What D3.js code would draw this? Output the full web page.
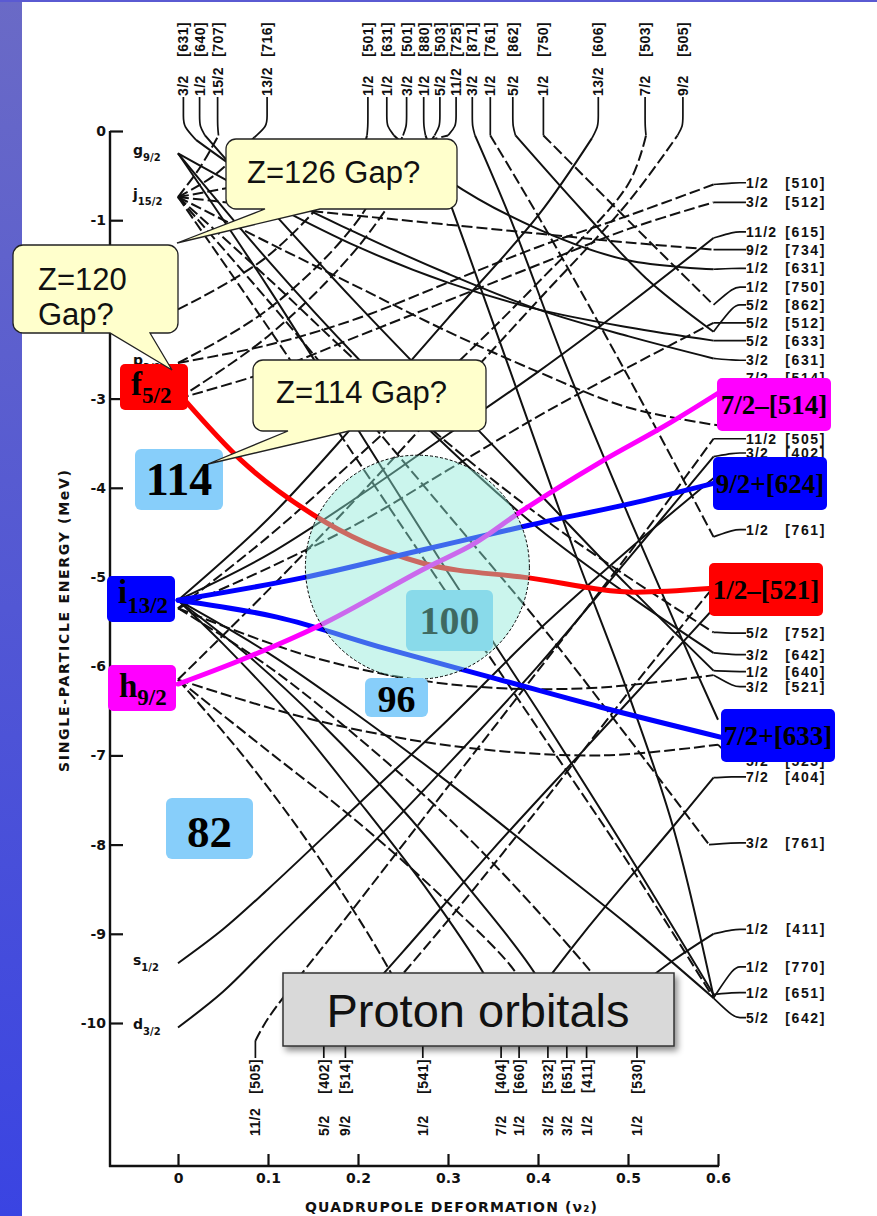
<!DOCTYPE html>
<html>
<head>
<meta charset="utf-8">
<script src="https://cdn.jsdelivr.net/npm/d3@7"></script>
<style>
  body { margin: 0; background: #fff; }
  svg { display: block; }
</style>
</head>
<body>
<div id="chart"></div>
<script>

// ---- data (deformation v2, single-particle energy in MeV) ----
var yTicks = [0, -1, -2, -3, -4, -5, -6, -7, -8, -9, -10];
var xTicks = [0, 0.1, 0.2, 0.3, 0.4, 0.5, 0.6];

// spherical levels written at zero deformation
var levels = [
  ["g", "9/2", -0.25],
  ["j", "15/2", -0.74],
  ["p", "3/2", -2.6],
  ["s", "1/2", -9.33],
  ["d", "3/2", -10.05]
];

// even-N orbitals (solid lines)
var solidOrbits = [
  ["1/2[660]", [[0,-5.26],[0.05,-5.75],[0.12,-6.5],[0.2,-7.5],[0.28,-8.55],[0.34,-9.45],[0.379,-10.2]]],
  ["3/2[651]", [[0,-5.26],[0.08,-5.9],[0.16,-6.65],[0.24,-7.5],[0.32,-8.45],[0.4,-9.5],[0.432,-10.2]]],
  ["5/2[642]", [[0,-5.26],[0.1,-5.85],[0.2,-6.55],[0.3,-7.3],[0.4,-8.1],[0.5,-8.9],[0.595,-9.72]]],
  ["11/2[615]", [[0,-5.26],[0.1,-4.75],[0.2,-4.1],[0.3,-3.4],[0.4,-2.7],[0.5,-1.95],[0.595,-1.2]]],
  ["13/2[606]", [[0,-5.26],[0.1,-4.35],[0.2,-3.25],[0.3,-2.1],[0.4,-0.95],[0.46,-0.08]]],
  ["1/2[651]", [[0,-0.25],[0.1,-1.75],[0.2,-3.35],[0.3,-4.95],[0.4,-6.5],[0.5,-8.1],[0.595,-9.68]]],
  ["3/2[642]", [[0,-0.25],[0.1,-1.45],[0.2,-2.55],[0.3,-3.55],[0.4,-4.45],[0.5,-5.2],[0.595,-5.85]]],
  ["5/2[633]", [[0,-0.25],[0.1,-0.8],[0.2,-1.3],[0.3,-1.7],[0.4,-2.0],[0.5,-2.2],[0.595,-2.35]]],
  ["1/2[640]", [[0.03,-0.05],[0.1,-0.85],[0.2,-1.95],[0.3,-3.0],[0.4,-4.05],[0.5,-5.1],[0.595,-6.05]]],
  ["3/2[631]", [[0.02,-0.1],[0.1,-0.65],[0.2,-1.15],[0.3,-1.6],[0.4,-2.0],[0.5,-2.3],[0.595,-2.55]]],
  ["1/2[631]", [[0.24,-0.05],[0.3,-0.55],[0.4,-1.1],[0.5,-1.45],[0.595,-1.55]]],
  ["1/2[880]", [[0.275,-0.05],[0.32,-1.3],[0.38,-3.0],[0.44,-4.7],[0.5,-6.3],[0.55,-7.8],[0.595,-9.7]]],
  ["3/2[871]", [[0.33,-0.05],[0.37,-1.0],[0.43,-2.6],[0.5,-4.3],[0.56,-5.7],[0.6,-6.6]]],
  ["5/2[862]", [[0.375,-0.05],[0.45,-0.9],[0.52,-1.65],[0.595,-2.25]]],
  ["1/2[400]", [[0,-9.33],[0.05,-8.95],[0.1,-8.5],[0.2,-7.55],[0.3,-6.6],[0.4,-5.6],[0.5,-4.7],[0.6,-3.85]]],
  ["3/2[402]", [[0,-10.05],[0.05,-9.65],[0.1,-9.15],[0.2,-8.15],[0.3,-7.1],[0.4,-6.0],[0.5,-4.8],[0.595,-3.65]]],
  ["1/2[411]", [[0.454,-10.2],[0.5,-9.7],[0.55,-9.3],[0.595,-9.0]]],
  ["5/2[402]", [[0.162,-10.2],[0.25,-9.2],[0.35,-8.05],[0.45,-6.95],[0.55,-5.85],[0.6,-5.3]]],
  ["7/2[404]", [[0.359,-10.2],[0.45,-9.0],[0.55,-7.8],[0.595,-7.25]]]
];

// odd-N orbitals (dashed lines)
var dashedOrbits = [
  ["15/2[707]", [[0,-0.74],[0.025,-0.4],[0.045,-0.05]]],
  ["13/2[716]", [[0,-0.74],[0.04,-0.5],[0.085,-0.07]]],
  ["11/2[725]", [[0,-0.74],[0.1,-0.55],[0.2,-0.3],[0.3,-0.05]]],
  ["9/2[734]", [[0,-0.74],[0.1,-0.85],[0.2,-0.95],[0.3,-1.05],[0.4,-1.15],[0.5,-1.25],[0.595,-1.33]]],
  ["7/2[743]", [[0,-0.74],[0.1,-1.25],[0.2,-1.75],[0.3,-2.25],[0.4,-2.7],[0.5,-3.1],[0.6,-3.3]]],
  ["5/2[752]", [[0,-0.74],[0.1,-1.65],[0.2,-2.6],[0.3,-3.5],[0.4,-4.3],[0.5,-5.0],[0.595,-5.62]]],
  ["3/2[761]", [[0,-0.74],[0.1,-1.9],[0.2,-3.1],[0.3,-4.3],[0.4,-5.5],[0.5,-6.8],[0.59,-8.0]]],
  ["1/2[770]", [[0,-0.74],[0.1,-2.2],[0.2,-3.7],[0.3,-5.2],[0.4,-6.7],[0.5,-8.2],[0.595,-9.72]]],
  ["1/2[761]", [[0.347,-0.05],[0.4,-0.95],[0.5,-2.75],[0.595,-4.55]]],
  ["1/2[750]", [[0.406,-0.05],[0.5,-1.0],[0.595,-1.95]]],
  ["5/2[523]", [[0,-6.15],[0.15,-6.6],[0.31,-6.9],[0.47,-7.0],[0.6,-6.88]]],
  ["1/2[541]", [[0,-6.15],[0.08,-7.1],[0.16,-8.2],[0.24,-9.5],[0.272,-10.2]]],
  ["3/2[532]", [[0,-6.15],[0.1,-6.95],[0.2,-7.75],[0.3,-8.65],[0.38,-9.5],[0.411,-10.2]]],
  ["9/2[505]", [[0,-6.15],[0.1,-5.15],[0.2,-4.1],[0.3,-3.0],[0.4,-1.9],[0.5,-0.8],[0.555,-0.05]]],
  ["1/2[530]", [[0,-5.35],[0.1,-6.0],[0.2,-6.8],[0.3,-7.7],[0.4,-8.75],[0.48,-9.7],[0.51,-10.2]]],
  ["3/2[521]", [[0,-5.35],[0.15,-5.9],[0.3,-6.2],[0.45,-6.25],[0.595,-6.1]]],
  ["5/2[512]", [[0,-5.35],[0.1,-4.9],[0.2,-4.4],[0.3,-3.8],[0.4,-3.2],[0.5,-2.65],[0.595,-2.15]]],
  ["7/2[503]", [[0,-5.35],[0.1,-4.55],[0.2,-3.65],[0.3,-2.7],[0.4,-1.7],[0.5,-0.6],[0.52,-0.05]]],
  ["3/2[512]", [[0,-3.0],[0.1,-2.7],[0.2,-2.3],[0.3,-1.9],[0.4,-1.5],[0.5,-1.1],[0.595,-0.8]]],
  ["5/2[503]", [[0,-3.0],[0.1,-2.3],[0.2,-1.3],[0.285,-0.05]]],
  ["1/2[510]", [[0,-2.6],[0.1,-2.4],[0.2,-2.1],[0.3,-1.7],[0.4,-1.3],[0.5,-0.95],[0.595,-0.6]]],
  ["3/2[501]", [[0,-2.6],[0.1,-2.0],[0.2,-1.0],[0.25,-0.05]]],
  ["1/2[501]", [[0,-2.0],[0.1,-1.4],[0.2,-0.3],[0.21,-0.05]]],
  ["9/2[514]", [[0.186,-10.2],[0.3,-8.85],[0.4,-7.6],[0.5,-6.3],[0.6,-5.05]]],
  ["11/2[505]", [[0.086,-10.2],[0.1,-9.95],[0.2,-8.65],[0.3,-7.35],[0.4,-6.05],[0.5,-4.75],[0.595,-3.45]]]
];

// highlighted orbitals
var redLine     = [[0.006,-3.0],[0.07,-3.69],[0.15,-4.30],[0.27,-4.84],[0.39,-5.01],[0.51,-5.17],[0.59,-5.13]];
var blueUpper   = [[0,-5.26],[0.138,-5.01],[0.27,-4.70],[0.39,-4.42],[0.51,-4.16],[0.595,-3.95]];
var blueLower   = [[0,-5.26],[0.11,-5.45],[0.23,-5.80],[0.35,-6.13],[0.47,-6.46],[0.605,-6.80]];
var magentaLine = [[0,-6.2],[0.07,-5.93],[0.158,-5.54],[0.277,-4.89],[0.33,-4.62],[0.376,-4.30],[0.468,-3.72],[0.547,-3.27],[0.6,-2.94]];

// orbital labels: omega, Nilsson numbers, position
var topLabels = [
  ["3/2","[631]",0.006],["1/2","[640]",0.024],["15/2","[707]",0.044],["13/2","[716]",0.099],
  ["1/2","[501]",0.211],["1/2","[631]",0.232],["3/2","[501]",0.254],["1/2","[880]",0.273],
  ["5/2","[503]",0.291],["11/2","[725]",0.309],["3/2","[871]",0.327],["1/2","[761]",0.347],
  ["5/2","[862]",0.372],["1/2","[750]",0.406],["13/2","[606]",0.467],["7/2","[503]",0.519],
  ["9/2","[505]",0.561]
];
// labels partly hidden by the coloured boxes are kept (7/2[514], 5/2[523])
var rightLabels = [
  ["1/2","[510]",-0.58],["3/2","[512]",-0.80],["11/2","[615]",-1.13],["9/2","[734]",-1.33],
  ["1/2","[631]",-1.54],["1/2","[750]",-1.75],["5/2","[862]",-1.95],["5/2","[512]",-2.15],
  ["5/2","[633]",-2.35],["3/2","[631]",-2.57],["7/2","[514]",-2.77],["11/2","[505]",-3.45],
  ["3/2","[402]",-3.61],["1/2","[761]",-4.47],
  ["5/2","[752]",-5.63],["3/2","[642]",-5.87],["1/2","[640]",-6.06],["3/2","[521]",-6.23],
  ["5/2","[523]",-7.06],["7/2","[404]",-7.24],["3/2","[761]",-7.98],
  ["1/2","[411]",-8.95],["1/2","[770]",-9.37],["1/2","[651]",-9.66],["5/2","[642]",-9.94]
];
var bottomLabels = [
  ["11/2","[505]",0.086],["5/2","[402]",0.162],["9/2","[514]",0.186],["1/2","[541]",0.272],
  ["7/2","[404]",0.359],["1/2","[660]",0.379],["3/2","[532]",0.411],["3/2","[651]",0.432],
  ["1/2","[411]",0.454],["1/2","[530]",0.510]
];

// shell gap numbers
var gapNumbers = ["114", "82", "96", "100"];

// ---- drawing ----
var W = 877, H = 1216;
var svg = d3.select("#chart").append("svg")
    .attr("width", W)
    .attr("height", H);

var x = d3.scaleLinear().domain([0, 0.6]).range([178, 718]);
var y = d3.scaleLinear().domain([0, -10]).range([131, 1023]);

var defs = svg.append("defs");
var grad = defs.append("linearGradient").attr("id", "sideBar")
    .attr("x1", 0).attr("y1", 0).attr("x2", 0).attr("y2", 1);
grad.append("stop").attr("offset", "0%").attr("stop-color", "#6a6ac6");
grad.append("stop").attr("offset", "100%").attr("stop-color", "#3a44e2");

var shadow = defs.append("filter").attr("id", "shadow")
    .attr("x", "-10%").attr("y", "-20%").attr("width", "130%").attr("height", "160%");
shadow.append("feDropShadow").attr("dx", 3).attr("dy", 4).attr("stdDeviation", 3)
    .attr("flood-color", "#000").attr("flood-opacity", 0.45);

svg.append("rect").attr("width", W).attr("height", H).attr("fill", "#fff");
svg.append("rect").attr("x", 0).attr("y", 0).attr("width", 22).attr("height", H)
    .attr("fill", "url(#sideBar)");
svg.append("rect").attr("x", 0).attr("y", 0).attr("width", W).attr("height", 2)
    .attr("fill", "#5a5ad2");

var scanFont = "'DejaVu Sans', 'Liberation Sans', Arial, sans-serif";
var textFont = "'Liberation Sans', Arial, sans-serif";

// axes ("-2" sits under the Z=120 callout, so only its tick is drawn)
var yAxis = d3.axisLeft(y)
    .tickValues(yTicks)
    .tickSizeInner(-13)
    .tickSizeOuter(0)
    .tickPadding(4)
    .tickFormat(function(d) { return d === 0 ? "0" : d === -2 ? "" : "-" + Math.abs(d); });

var gy = svg.append("g").attr("transform", "translate(110,0)").call(yAxis);
gy.select(".domain").remove();
gy.selectAll("line").attr("stroke", "#111").attr("stroke-width", 2.2);
gy.selectAll("text").attr("font-family", scanFont).attr("font-weight", "bold")
    .attr("font-size", 14).attr("fill", "#111");

var xAxis = d3.axisBottom(x)
    .tickValues(xTicks)
    .tickSizeInner(-12)
    .tickSizeOuter(0)
    .tickPadding(7)
    .tickFormat(function(d) { return d === 0 ? "0" : d3.format(".1f")(d); });

var gx = svg.append("g").attr("transform", "translate(0,1166)").call(xAxis);
gx.select(".domain").remove();
gx.selectAll("line").attr("stroke", "#111").attr("stroke-width", 2.2);
gx.selectAll("text").attr("font-family", scanFont).attr("font-weight", "bold")
    .attr("font-size", 14).attr("fill", "#111");

svg.append("line").attr("x1", 110).attr("y1", 131).attr("x2", 110).attr("y2", 1167)
    .attr("stroke", "#111").attr("stroke-width", 2.4);
svg.append("line").attr("x1", 109).attr("y1", 1166).attr("x2", 719).attr("y2", 1166)
    .attr("stroke", "#111").attr("stroke-width", 2.4);

svg.append("text")
    .attr("x", 451).attr("y", 1212)
    .attr("text-anchor", "middle")
    .attr("font-family", scanFont).attr("font-weight", "bold").attr("font-size", 14)
    .attr("textLength", 292).attr("lengthAdjust", "spacing")
    .attr("fill", "#111")
    .text("QUADRUPOLE  DEFORMATION  (\u03bd\u2082)");

svg.append("text")
    .attr("transform", "translate(69,621) rotate(-90)")
    .attr("text-anchor", "middle")
    .attr("font-family", scanFont).attr("font-weight", "bold").attr("font-size", 14)
    .attr("textLength", 302).attr("lengthAdjust", "spacing")
    .attr("fill", "#111")
    .text("SINGLE-PARTICLE  ENERGY  (MeV)");

// spherical level labels
svg.selectAll(".lvl").data(levels).enter().append("text")
    .attr("class", "lvl")
    .attr("x", 133)
    .attr("y", function(d) { return y(d[2]) + 2; })
    .attr("font-family", scanFont).attr("font-weight", "bold").attr("font-size", 14)
    .attr("fill", "#111")
    .each(function(d) {
      var t = d3.select(this);
      t.append("tspan").text(d[0]);
      t.append("tspan").attr("font-size", 10).attr("dy", 6).text(d[1]);
    });

// orbital lines
var line = d3.line()
    .x(function(d) { return x(d[0]); })
    .y(function(d) { return y(d[1]); })
    .curve(d3.curveCatmullRom.alpha(0.5));

svg.append("g").selectAll("path").data(solidOrbits).enter().append("path")
    .attr("d", function(d) { return line(d[1]); })
    .attr("fill", "none").attr("stroke", "#111").attr("stroke-width", 2);

svg.append("g").selectAll("path").data(dashedOrbits).enter().append("path")
    .attr("d", function(d) { return line(d[1]); })
    .attr("fill", "none").attr("stroke", "#111").attr("stroke-width", 2)
    .attr("stroke-dasharray", "11,4");

// leaders from the orbit ends to their labels
var allOrbits = solidOrbits.concat(dashedOrbits);
function findOrbit(name) {
  for (var i = 0; i < allOrbits.length; i++) {
    if (allOrbits[i][0] === name) return allOrbits[i][1];
  }
  return null;
}
var leader = d3.line().curve(d3.curveBasis);
var gLead = svg.append("g").attr("fill", "none").attr("stroke", "#111").attr("stroke-width", 1.7);

topLabels.forEach(function(d) {
  var pts = findOrbit(d[0] + d[1]);
  if (!pts) return;
  var top = pts.reduce(function(a, b) { return b[1] > a[1] ? b : a; });
  var xl = x(d[2]);
  gLead.append("path").attr("d", leader([[x(top[0]), y(top[1])], [xl, 126], [xl, 118], [xl, 97]]));
});
rightLabels.forEach(function(d) {
  var pts = findOrbit(d[0] + d[1]);
  if (!pts) return;
  var end = pts.reduce(function(a, b) { return b[0] > a[0] ? b : a; });
  var yl = y(d[2]);
  gLead.append("path").attr("d", leader([[x(end[0]), y(end[1])], [734, yl], [740, yl], [746, yl]]));
});
bottomLabels.forEach(function(d) {
  var pts = findOrbit(d[0] + d[1]);
  if (!pts) return;
  var low = pts.reduce(function(a, b) { return b[1] < a[1] ? b : a; });
  var xl = x(d[2]);
  gLead.append("path").attr("d", leader([[x(low[0]), y(low[1])], [xl, 1046], [xl, 1052], [xl, 1058]]));
});

// label texts: rotated ones are a little narrower than the ones on the right
var labFont = "'Liberation Sans', Arial, sans-serif";
var gLab = svg.append("g").attr("font-family", labFont).attr("font-weight", "bold")
    .attr("fill", "#111");

function rotLabel(txt, xl, yl, anchor) {
  gLab.append("text").attr("font-size", 14).attr("letter-spacing", 0.4)
      .attr("transform", "translate(" + xl + "," + yl + ") rotate(-90)")
      .attr("text-anchor", anchor).text(txt);
}
topLabels.forEach(function(d) {
  var xl = x(d[2]) + 5;
  rotLabel(d[0], xl, 96, "start");
  rotLabel(d[1], xl, 22, "end");
});
bottomLabels.forEach(function(d) {
  var xl = x(d[2]) + 5;
  rotLabel(d[0], xl, 1136, "start");
  rotLabel(d[1], xl, 1059, "end");
});
rightLabels.forEach(function(d) {
  var yl = y(d[2]) + 5;
  gLab.append("text").attr("font-size", 14).attr("letter-spacing", 1.2)
      .attr("x", 746).attr("y", yl).text(d[0]);
  gLab.append("text").attr("font-size", 14).attr("letter-spacing", 1.6)
      .attr("x", 826).attr("y", yl).attr("text-anchor", "end").text(d[1]);
});

// highlighted orbitals
var smooth = d3.line()
    .x(function(d) { return x(d[0]); })
    .y(function(d) { return y(d[1]); })
    .curve(d3.curveMonotoneX);

[[redLine, "#ff0000"], [blueUpper, "#0000ff"], [blueLower, "#0000ff"], [magentaLine, "#ff00ff"]]
  .forEach(function(d) {
    svg.append("path").attr("d", smooth(d[0]))
        .attr("fill", "none").attr("stroke", d[1]).attr("stroke-width", 5)
        .attr("stroke-linecap", "round");
  });

// number boxes
var serif = "'Liberation Serif', 'Times New Roman', serif";
function numBox(txt, bx, by, bw, bh, fs, base) {
  svg.append("rect").attr("x", bx).attr("y", by).attr("width", bw).attr("height", bh)
      .attr("rx", 6).attr("fill", "#87cefa");
  svg.append("text").attr("x", bx + bw / 2).attr("y", base)
      .attr("text-anchor", "middle").attr("font-family", serif).attr("font-weight", "bold")
      .attr("font-size", fs).attr("fill", "#000").text(txt);
}
numBox(gapNumbers[3], 406, 590, 87, 61, 40, 634);

// highlight circle
svg.append("circle")
    .attr("cx", x(0.266)).attr("cy", y(-4.89)).attr("r", 112)
    .attr("fill", "rgb(140,232,214)").attr("fill-opacity", 0.45)
    .attr("stroke", "#000").attr("stroke-width", 1).attr("stroke-dasharray", "3,2");

numBox(gapNumbers[0], 135, 449, 88, 61, 46, 495);
numBox(gapNumbers[1], 166, 798, 87, 61, 45, 847);
numBox(gapNumbers[2], 365, 678, 63, 39, 38, 712);

// coloured level boxes at zero deformation
function levelBox(col, bx, by, letter, sub, base, subDy) {
  svg.append("rect").attr("x", bx).attr("y", by).attr("width", 68).attr("height", 46)
      .attr("rx", 5).attr("fill", col);
  var t = svg.append("text").attr("x", bx + 11).attr("y", base)
      .attr("font-family", serif).attr("font-weight", "bold").attr("fill", "#000");
  t.append("tspan").attr("font-size", 33).text(letter);
  t.append("tspan").attr("font-size", 23).attr("dy", subDy).text(sub);
}
levelBox("#ff0000", 120, 364, "f", "5/2", 395, 8);
levelBox("#0000ff", 107, 576, "i", "13/2", 603, 10);
levelBox("#ff00ff", 108, 665, "h", "9/2", 697, 8);

// coloured orbital boxes at the right edge
function orbitBox(col, bx, by, txt) {
  svg.append("rect").attr("x", bx).attr("y", by).attr("width", 114).attr("height", 53)
      .attr("rx", 5).attr("fill", col);
  svg.append("text").attr("x", bx + 57).attr("y", by + 36)
      .attr("text-anchor", "middle").attr("font-family", serif).attr("font-weight", "bold")
      .attr("font-size", 27).attr("fill", "#000").text(txt);
}
orbitBox("#ff00ff", 717, 378, "7/2\u2013[514]");
orbitBox("#0000ff", 713, 457, "9/2+[624]");
orbitBox("#ff0000", 709, 563, "1/2\u2013[521]");
orbitBox("#0000ff", 721, 709, "7/2+[633]");

// callouts
function callout(c) {
  var r = 10;
  var p = "M" + (c.x + r) + "," + c.y +
    " H" + (c.x + c.w - r) +
    " A" + r + "," + r + " 0 0 1 " + (c.x + c.w) + "," + (c.y + r) +
    " V" + (c.y + c.h - r) +
    " A" + r + "," + r + " 0 0 1 " + (c.x + c.w - r) + "," + (c.y + c.h) +
    " H" + c.b2 + " L" + c.tx + "," + c.ty + " L" + c.b1 + "," + (c.y + c.h) +
    " H" + (c.x + r) +
    " A" + r + "," + r + " 0 0 1 " + c.x + "," + (c.y + c.h - r) +
    " V" + (c.y + r) +
    " A" + r + "," + r + " 0 0 1 " + (c.x + r) + "," + c.y + " Z";
  svg.append("path").attr("d", p).attr("fill", "#ffffcc")
      .attr("stroke", "#222").attr("stroke-width", 1.3);
  var t = svg.append("text").attr("font-family", textFont).attr("font-size", 31).attr("fill", "#111");
  c.lines.forEach(function(s, i) {
    t.append("tspan").attr("x", c.lx).attr("y", c.ly + i * 35).text(s);
  });
}
callout({x: 226, y: 139, w: 231, h: 70, b1: 265, b2: 320, tx: 177, ty: 243,
         lx: 247, ly: 183, lines: ["Z=126 Gap?"]});
callout({x: 13, y: 245, w: 165, h: 88, b1: 110, b2: 150, tx: 172, ty: 370,
         lx: 38, ly: 290, lines: ["Z=120", "Gap?"]});
callout({x: 253, y: 360, w: 233, h: 71, b1: 288, b2: 349, tx: 208, ty: 464,
         lx: 276, ly: 403, lines: ["Z=114 Gap?"]});

// title box
svg.append("rect").attr("x", 283).attr("y", 973).attr("width", 391).attr("height", 73)
    .attr("fill", "#d9d9d9").attr("stroke", "#333").attr("stroke-width", 1.5)
    .attr("filter", "url(#shadow)");
svg.append("text").attr("x", 478).attr("y", 1027).attr("text-anchor", "middle")
    .attr("font-family", textFont).attr("font-size", 47).attr("fill", "#111")
    .text("Proton orbitals");

</script>
</body>
</html>
